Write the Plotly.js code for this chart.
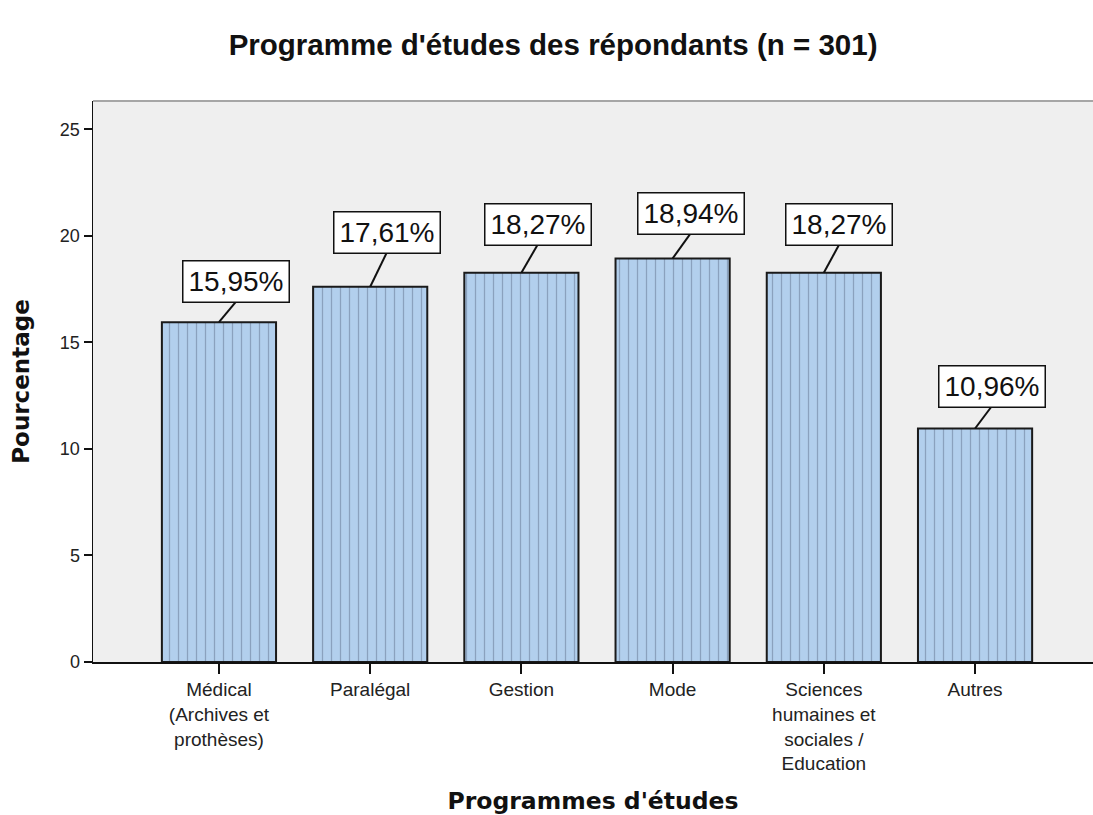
<!DOCTYPE html>
<html>
<head>
<meta charset="utf-8">
<script src="https://cdn.plot.ly/plotly-3.0.1.min.js"></script>
<style>html,body{margin:0;padding:0;background:#fff;}#chart{width:1093px;height:815px;}</style>
</head>
<body>
<div id="chart"></div>
<script>
// ---- data ----
const categories = [
  "Médical<br>(Archives et<br>prothèses)",
  "Paralégal",
  "Gestion",
  "Mode",
  "Sciences<br>humaines et<br>sociales /<br>Education",
  "Autres"
];
const percentages = [15.95, 17.61, 18.27, 18.94, 18.27, 10.96];
const valueLabels = ["15,95%", "17,61%", "18,27%", "18,94%", "18,27%", "10,96%"];
const yTickValues = [0, 5, 10, 15, 20, 25];

// ---- style: label box offsets (pixels, from bar top) ----
const labelDx = [17.5, 16.5, 16.5, 18, 15.5, 16.5];
const labelDy = [41, 54, 48.5, 45, 48.5, 42];
const boxHalfH = 20;

const xIdx = categories.map((c, i) => i);

const trace = {
  type: 'bar',
  x: xIdx,
  y: percentages,
  width: 0.755,
  marker: {
    color: '#b2cfed',
    line: {color: '#1a1a1a', width: 2},
    pattern: {shape: '|', fgcolor: '#6a7c96', bgcolor: '#b2cfed', size: 9, solidity: 0.14, fgopacity: 0.55}
  },
  hoverinfo: 'skip'
};

const annotations = [];
const shapes = [];
percentages.forEach((v, i) => {
  annotations.push({
    x: i, y: v, xref: 'x', yref: 'y',
    xanchor: 'center', yanchor: 'middle',
    xshift: labelDx[i], yshift: labelDy[i],
    text: valueLabels[i],
    showarrow: false,
    font: {family: 'Liberation Sans, Arial, sans-serif', size: 28, color: '#111'},
    bgcolor: '#ffffff',
    bordercolor: '#111111',
    borderwidth: 1.5,
    borderpad: 2,
    width: 101,
    height: 36
  });
  shapes.push({
    type: 'line', xref: 'x', yref: 'y',
    xsizemode: 'pixel', ysizemode: 'pixel',
    xanchor: i, yanchor: v,
    x0: 0, y0: 0, x1: labelDx[i], y1: labelDy[i] - boxHalfH,
    line: {color: '#111', width: 2}
  });
});
// top border of plot area
shapes.push({type: 'line', xref: 'paper', yref: 'paper', x0: 0, x1: 1, y0: 1, y1: 1,
  line: {color: '#a6a6a6', width: 2}});

const layout = {
  width: 1093, height: 815,
  margin: {l: 93, r: 0, t: 101, b: 153},
  paper_bgcolor: '#ffffff',
  plot_bgcolor: '#efefef',
  showlegend: false,
  title: {
    text: "Programme d'études des répondants (n = 301)",
    font: {family: 'Liberation Sans, Arial, sans-serif', size: 29.5, color: '#111', weight: 'bold'},
    xref: 'container', yref: 'container',
    x: 0.506, xanchor: 'center', y: 1 - 45/815, yanchor: 'middle'
  },
  xaxis: {
    range: [-0.833, 5.78],
    tickmode: 'array', tickvals: xIdx, ticktext: categories,
    showline: true, linecolor: '#111', linewidth: 1.5,
    ticks: 'outside', ticklen: 10, tickwidth: 2, tickcolor: '#111',
    showgrid: false, zeroline: false,
    tickfont: {family: 'Liberation Sans, Arial, sans-serif', size: 19, color: '#222'},
    title: {text: "Programmes d'études", standoff: 22,
      font: {family: 'DejaVu Sans, sans-serif', size: 23.5, color: '#111', weight: 'bold'}}
  },
  yaxis: {
    range: [0, 26.33],
    tickmode: 'array', tickvals: yTickValues,
    showline: true, linecolor: '#111', linewidth: 1.5,
    ticks: 'outside', ticklen: 8, tickwidth: 2, tickcolor: '#111',
    showgrid: false, zeroline: false,
    tickfont: {family: 'Liberation Sans, Arial, sans-serif', size: 18, color: '#222'},
    title: {text: 'Pourcentage', standoff: 24,
      font: {family: 'DejaVu Sans, sans-serif', size: 23, color: '#111', weight: 'bold'}}
  },
  annotations: annotations,
  shapes: shapes
};

Plotly.newPlot('chart', [trace], layout, {displayModeBar: false, staticPlot: true});
</script>
</body>
</html>
